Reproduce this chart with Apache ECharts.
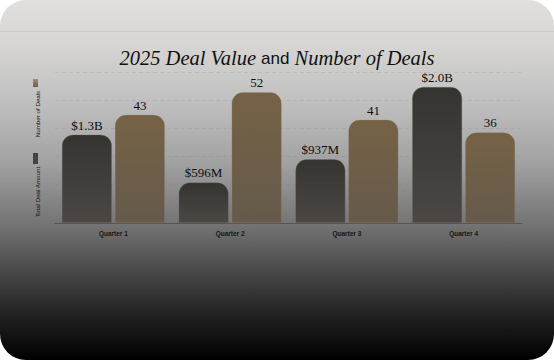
<!DOCTYPE html>
<html>
<head>
<meta charset="utf-8">
<script src="https://cdn.jsdelivr.net/npm/echarts@6/dist/echarts.min.js"></script>
<style>
  html, body { margin: 0; padding: 0; background: #ffffff; }
  #chart { width: 554px; height: 360px; }
</style>
</head>
<body>
<div id="chart"></div>
<script>
// ---- data ----
const quarters = ['Quarter 1', 'Quarter 2', 'Quarter 3', 'Quarter 4'];
const dealAmountB = [1.3, 0.596, 0.937, 2.0];   // Total Deal Amount, billions USD
const dealCounts = [43, 52, 41, 36];            // Number of Deals
const seriesNames = ['Total Deal Amount', 'Number of Deals'];
const titleParts = ['2025 Deal Value', 'and', 'Number of Deals'];

function fmtAmount(v) {
  return v >= 1 ? '$' + v.toFixed(1) + 'B' : '$' + Math.round(v * 1000) + 'M';
}

const chart = echarts.init(document.getElementById('chart'), null, { renderer: 'svg' });

const darkFill = new echarts.graphic.LinearGradient(0, 0, 0, 1, [
  { offset: 0, color: '#363431' },
  { offset: 1, color: '#4a4744' }
]);
const brownFill = new echarts.graphic.LinearGradient(0, 0, 0, 1, [
  { offset: 0, color: '#766246' },
  { offset: 1, color: '#655a4b' }
]);

const labelStyle = {
  show: true,
  position: 'top',
  distance: 3,
  fontFamily: '"Liberation Serif", "Times New Roman", serif',
  fontSize: 13,
  color: '#0e0e0e'
};

chart.setOption({
  backgroundColor: '#ffffff',
  animation: false,
  title: {
    text: '{s|' + titleParts[0] + '} {a|' + titleParts[1] + '} {s|' + titleParts[2] + '}',
    left: 'center',
    top: 43,
    textStyle: {
      fontWeight: 'normal',
      rich: {
        s: { fontFamily: '"Liberation Serif", serif', fontStyle: 'italic', fontWeight: 'normal', fontSize: 20.5, color: '#111111' },
        a: { fontFamily: '"Liberation Sans", Arial, sans-serif', fontWeight: 'normal', fontSize: 17, color: '#111111' }
      }
    }
  },
  graphic: [
    {
      type: 'rect', z: -10, silent: true,
      shape: { x: 0, y: 0, width: 554, height: 360, r: 26 },
      style: {
        fill: new echarts.graphic.LinearGradient(0, 0, 0, 1, [
          { offset: 0, color: '#e0dfdc' },
          { offset: 0.12, color: '#d7d6d4' },
          { offset: 0.28, color: '#c0c0c0' },
          { offset: 0.45, color: '#a2a2a2' },
          { offset: 0.63, color: '#727272' },
          { offset: 0.75, color: '#4a4a4a' },
          { offset: 0.86, color: '#262626' },
          { offset: 1, color: '#000000' }
        ])
      }
    },
    {
      type: 'rect', z: -9, silent: true,
      shape: { x: 0, y: 31, width: 554, height: 1 },
      style: { fill: 'rgba(150,150,150,0.2)' }
    },
    // vertical legend
    {
      type: 'rect', silent: true,
      shape: { x: 33, y: 79, width: 5, height: 8 },
      style: {
        fill: new echarts.graphic.LinearGradient(0, 0, 0, 1, [
          { offset: 0, color: '#a08f7b' },
          { offset: 1, color: '#6e5c48' }
        ])
      }
    },
    {
      type: 'text', silent: true,
      x: 37, y: 114, rotation: Math.PI / 2,
      style: {
        text: seriesNames[1], align: 'center', verticalAlign: 'middle',
        fontFamily: '"Liberation Sans", Arial, sans-serif', fontSize: 6.2, fill: '#111111'
      }
    },
    {
      type: 'rect', silent: true,
      shape: { x: 33, y: 153, width: 5, height: 11 },
      style: { fill: '#45423f' }
    },
    {
      type: 'text', silent: true,
      x: 37, y: 192, rotation: Math.PI / 2,
      style: {
        text: seriesNames[0], align: 'center', verticalAlign: 'middle',
        fontFamily: '"Liberation Sans", Arial, sans-serif', fontSize: 6.2, fill: '#111111'
      }
    }
  ],
  grid: { left: 55, right: 32, top: 72, bottom: 137 },
  xAxis: {
    type: 'category',
    data: quarters,
    axisTick: { show: false },
    axisLine: { show: true, lineStyle: { color: '#555555', width: 1 } },
    axisLabel: {
      margin: 7,
      fontFamily: '"Liberation Sans", Arial, sans-serif',
      fontSize: 6.5, fontWeight: 'bold', color: '#161616'
    }
  },
  yAxis: [
    { type: 'value', min: 0, max: 2.22, show: false, splitLine: { show: false } },
    { type: 'value', min: 0, max: 60, show: false, splitLine: { show: false } },
    {
      type: 'value', inverse: true, min: 0, max: 5.4, interval: 1,
      axisLine: { show: false }, axisTick: { show: false }, axisLabel: { show: false },
      splitLine: { show: true, lineStyle: { color: 'rgba(120,120,120,0.18)', type: [4, 3], width: 1 } }
    }
  ],
  series: [
    {
      name: seriesNames[0], type: 'bar', yAxisIndex: 0,
      data: dealAmountB,
      barWidth: 50, barGap: '6%',
      itemStyle: { color: darkFill, borderRadius: [11, 11, 0, 0], borderColor: 'rgba(120,115,110,0.5)', borderWidth: 0.6 },
      label: Object.assign({}, labelStyle, { formatter: p => fmtAmount(p.value) })
    },
    {
      name: seriesNames[1], type: 'bar', yAxisIndex: 1,
      data: dealCounts,
      barWidth: 50, barGap: '6%',
      itemStyle: { color: brownFill, borderRadius: [11, 11, 0, 0], borderColor: 'rgba(150,135,115,0.5)', borderWidth: 0.6 },
      label: Object.assign({}, labelStyle, { formatter: p => String(p.value) })
    }
  ]
});
</script>
</body>
</html>
